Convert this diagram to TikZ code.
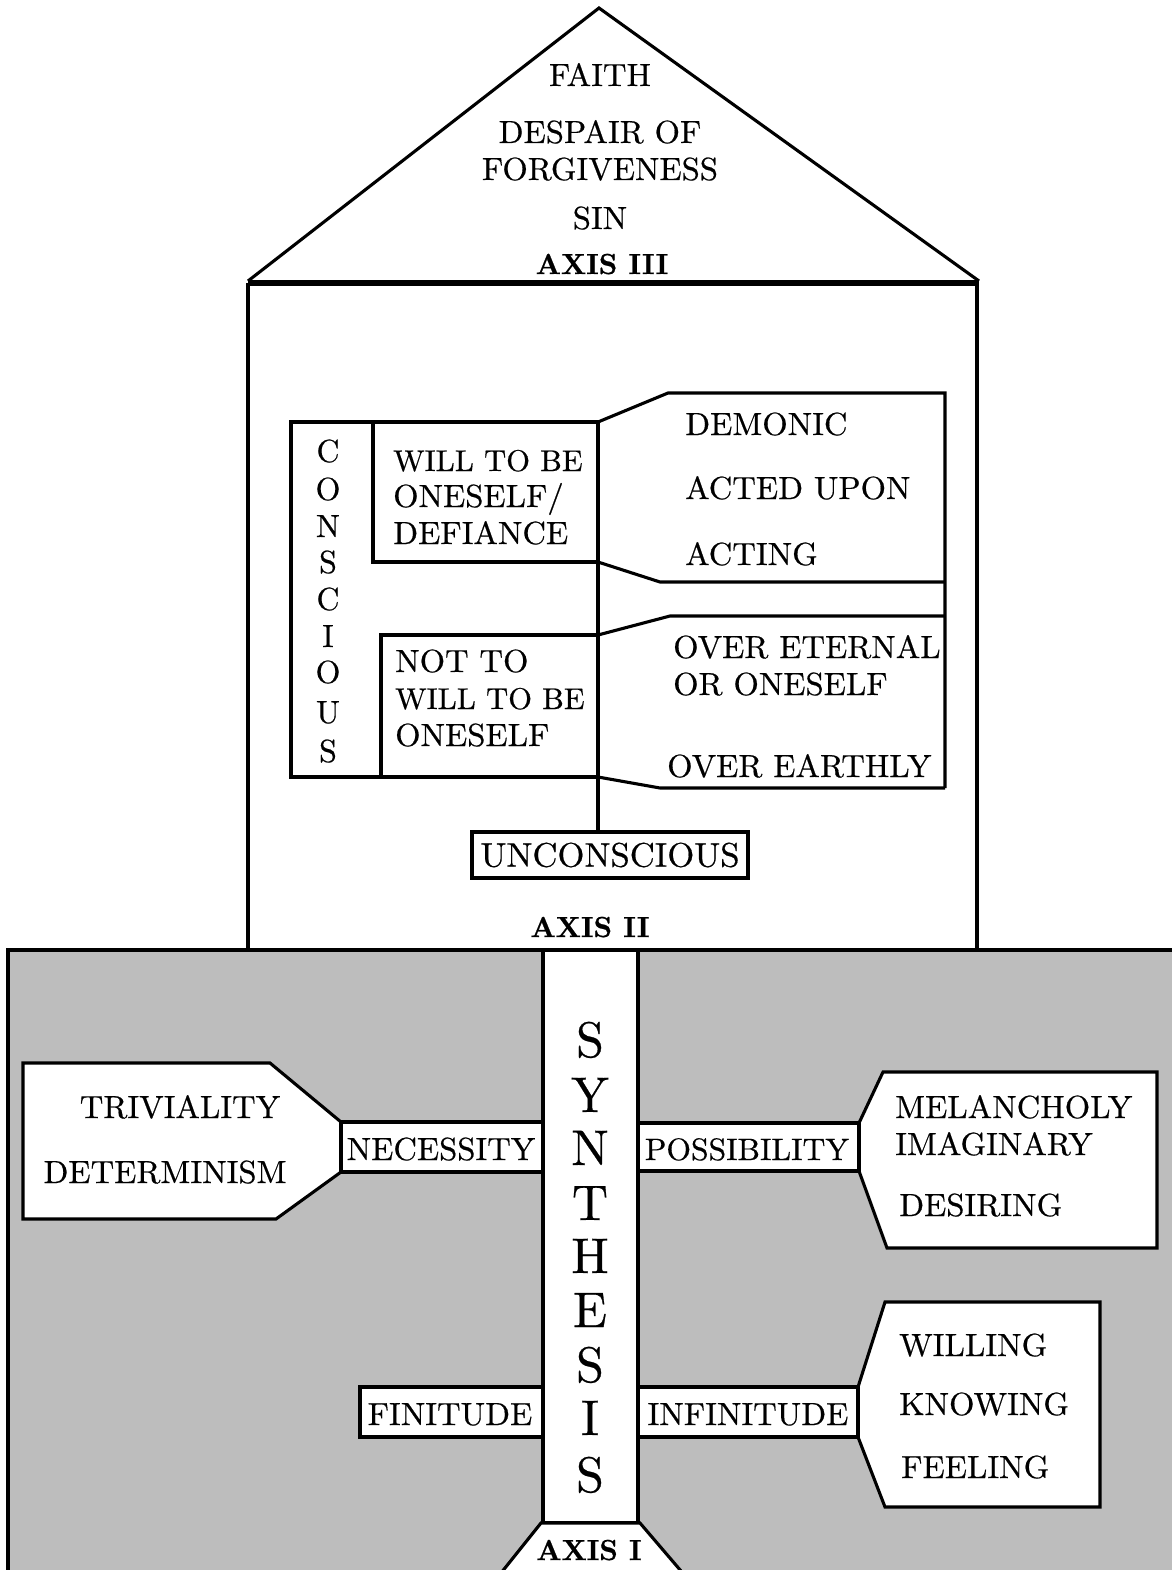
\documentclass[tikz,border=0pt]{standalone}
\usepackage{fontspec}
\setmainfont{lmroman10-regular.otf}[FakeStretch=1.02, FakeBold=0.5, BoldFont=lmroman10-bold.otf]
\newfontface\plainlm{lmroman10-regular.otf}[FakeBold=0.5]
\newfontface\axisfont{lmroman10-bold.otf}[FakeBold=0.6]
\definecolor{dotgray}{gray}{0.74}
\tikzset{
  ln/.style={line width=3.1pt, line join=miter},
  wbox/.style={ln, fill=white},
  lbl/.style={inner sep=0pt, anchor=base west, font=\fontsize{32}{36}\selectfont},
  narrowlbl/.style={lbl, font=\fontsize{30}{36}\selectfont},
  clbl/.style={inner sep=0pt, anchor=base, font=\fontsize{32}{36}\selectfont},
  letterlbl/.style={inner sep=0pt, anchor=base, font=\fontsize{32}{36}\selectfont\plainlm},
  axislbl/.style={inner sep=0pt, anchor=base, font=\fontsize{29}{32}\selectfont\axisfont},
  synlbl/.style={inner sep=0pt, anchor=base, font=\fontsize{50}{54}\selectfont\plainlm},
}
\begin{document}
\begin{tikzpicture}[x=1pt,y=-1pt]
\useasboundingbox (0,0) rectangle (1172,1570);
% ground (axis I)
\fill[dotgray] (8,950) rectangle (1172,1575);
\draw[ln] (8,1575) -- (8,950) -- (1172,950);
% roof
\draw[ln] (248,281) -- (599,8) -- (979,281);
\draw[line width=6pt] (248,283) -- (979,283);
\node[clbl] (faith) at (600,86) {FAITH};
\node[clbl] (despair) at (600,143) {DESPAIR OF};
\node[clbl] (forgive) at (600,180) {FORGIVENESS};
\node[clbl] (sin) at (600,229) {SIN};
\node[axislbl] (ax3) at (602,274) {AXIS III};
% body
\draw[ln] (248,283) -- (248,950);
\draw[ln] (977,283) -- (977,950);
% conscious block
\draw[ln] (598,422) -- (291,422) -- (291,777) -- (598,777);
\draw[ln] (373,422) -- (373,562) -- (598,562);
\draw[ln] (381,777) -- (381,635) -- (598,635);
\draw[ln] (598,422) -- (668,393) -- (945,393) -- (945,788);
\draw[ln] (598,562) -- (660,582) -- (945,582);
\draw[ln] (598,635) -- (670,616) -- (945,616);
\draw[ln] (598,777) -- (660,788) -- (945,788);
\coordinate (ctop) at (598,422);
\foreach \l/\y [count=\i] in {C/462,O/500,N/537,S/573,C/610,I/647,O/683,U/723,S/762}
  \node[letterlbl] (con\i) at (328,\y) {\l};
\node[narrowlbl] (w1) at (393,471) {WILL TO BE};
\node[lbl] (w2) at (393,507) {ONESELF/};
\node[lbl] (w3) at (393,544) {DEFIANCE};
\node[lbl] (n1) at (395,672) {NOT TO};
\node[narrowlbl] (n2) at (395,709) {WILL TO BE};
\node[lbl] (n3) at (395,746) {ONESELF};
\node[lbl] (dem) at (685,435) {DEMONIC};
\node[lbl] (acted) at (685,499) {ACTED UPON};
\node[lbl] (acting) at (685,565) {ACTING};
\node[lbl] (oe1) at (673,658) {OVER ETERNAL};
\node[lbl] (oe2) at (673,695) {OR ONESELF};
\node[lbl] (oea) at (667,777) {OVER EARTHLY};
\node[ln, draw, fill=white, minimum width=276pt, minimum height=46pt, inner sep=0pt,
      font=\fontsize{34}{36}\selectfont] (uncon) at (610,855) {UNCONSCIOUS};
\draw[ln] (ctop) -- (ctop |- uncon.north);
\node[axislbl] (ax2) at (590,937) {AXIS II};
% synthesis column
\draw[wbox] (543,950) rectangle (638,1523);
\draw[wbox] (497,1578) -- (541,1523) -- (640,1523) -- (687,1578);
\foreach \l/\y [count=\i] in {S/1057,Y/1112,N/1165,T/1220,H/1273,E/1327,S/1382,I/1435,S/1492}
  \node[synlbl] (syn\i) at (590,\y) {\l};
\node[axislbl] (ax1) at (589,1560) {AXIS I};
% necessity side
\draw[wbox] (23,1063) -- (270,1063) -- (341,1122) -- (341,1172) -- (276,1219) -- (23,1219) -- cycle;
\draw[wbox] (341,1122) rectangle (543,1172);
\node[clbl] (triv) at (180,1118) {TRIVIALITY};
\node[clbl] (det) at (165,1183) {DETERMINISM};
\node[clbl] (nec) at (441,1160) {NECESSITY};
% possibility side
\draw[wbox] (859,1123) -- (883,1072) -- (1157,1072) -- (1157,1248) -- (887,1248) -- (859,1171) -- cycle;
\draw[wbox] (638,1123) rectangle (859,1171);
\node[clbl, font=\fontsize{31}{36}\selectfont] (poss) at (747,1160) {POSSIBILITY};
\node[lbl] (mel) at (895,1118) {MELANCHOLY};
\node[lbl] (imag) at (895,1155) {IMAGINARY};
\node[lbl] (des) at (899,1216) {DESIRING};
% finitude / infinitude
\draw[wbox] (360,1387) rectangle (543,1437);
\node[clbl] (fin) at (450,1425) {FINITUDE};
\draw[wbox] (858,1387) -- (885,1302) -- (1100,1302) -- (1100,1507) -- (885,1507) -- (858,1437) -- cycle;
\draw[wbox] (638,1387) rectangle (858,1437);
\node[clbl] (infin) at (748,1425) {INFINITUDE};
\node[lbl] (will) at (899,1356) {WILLING};
\node[lbl] (know) at (899,1415) {KNOWING};
\node[lbl] (feel) at (901,1478) {FEELING};
\end{tikzpicture}
\end{document}
